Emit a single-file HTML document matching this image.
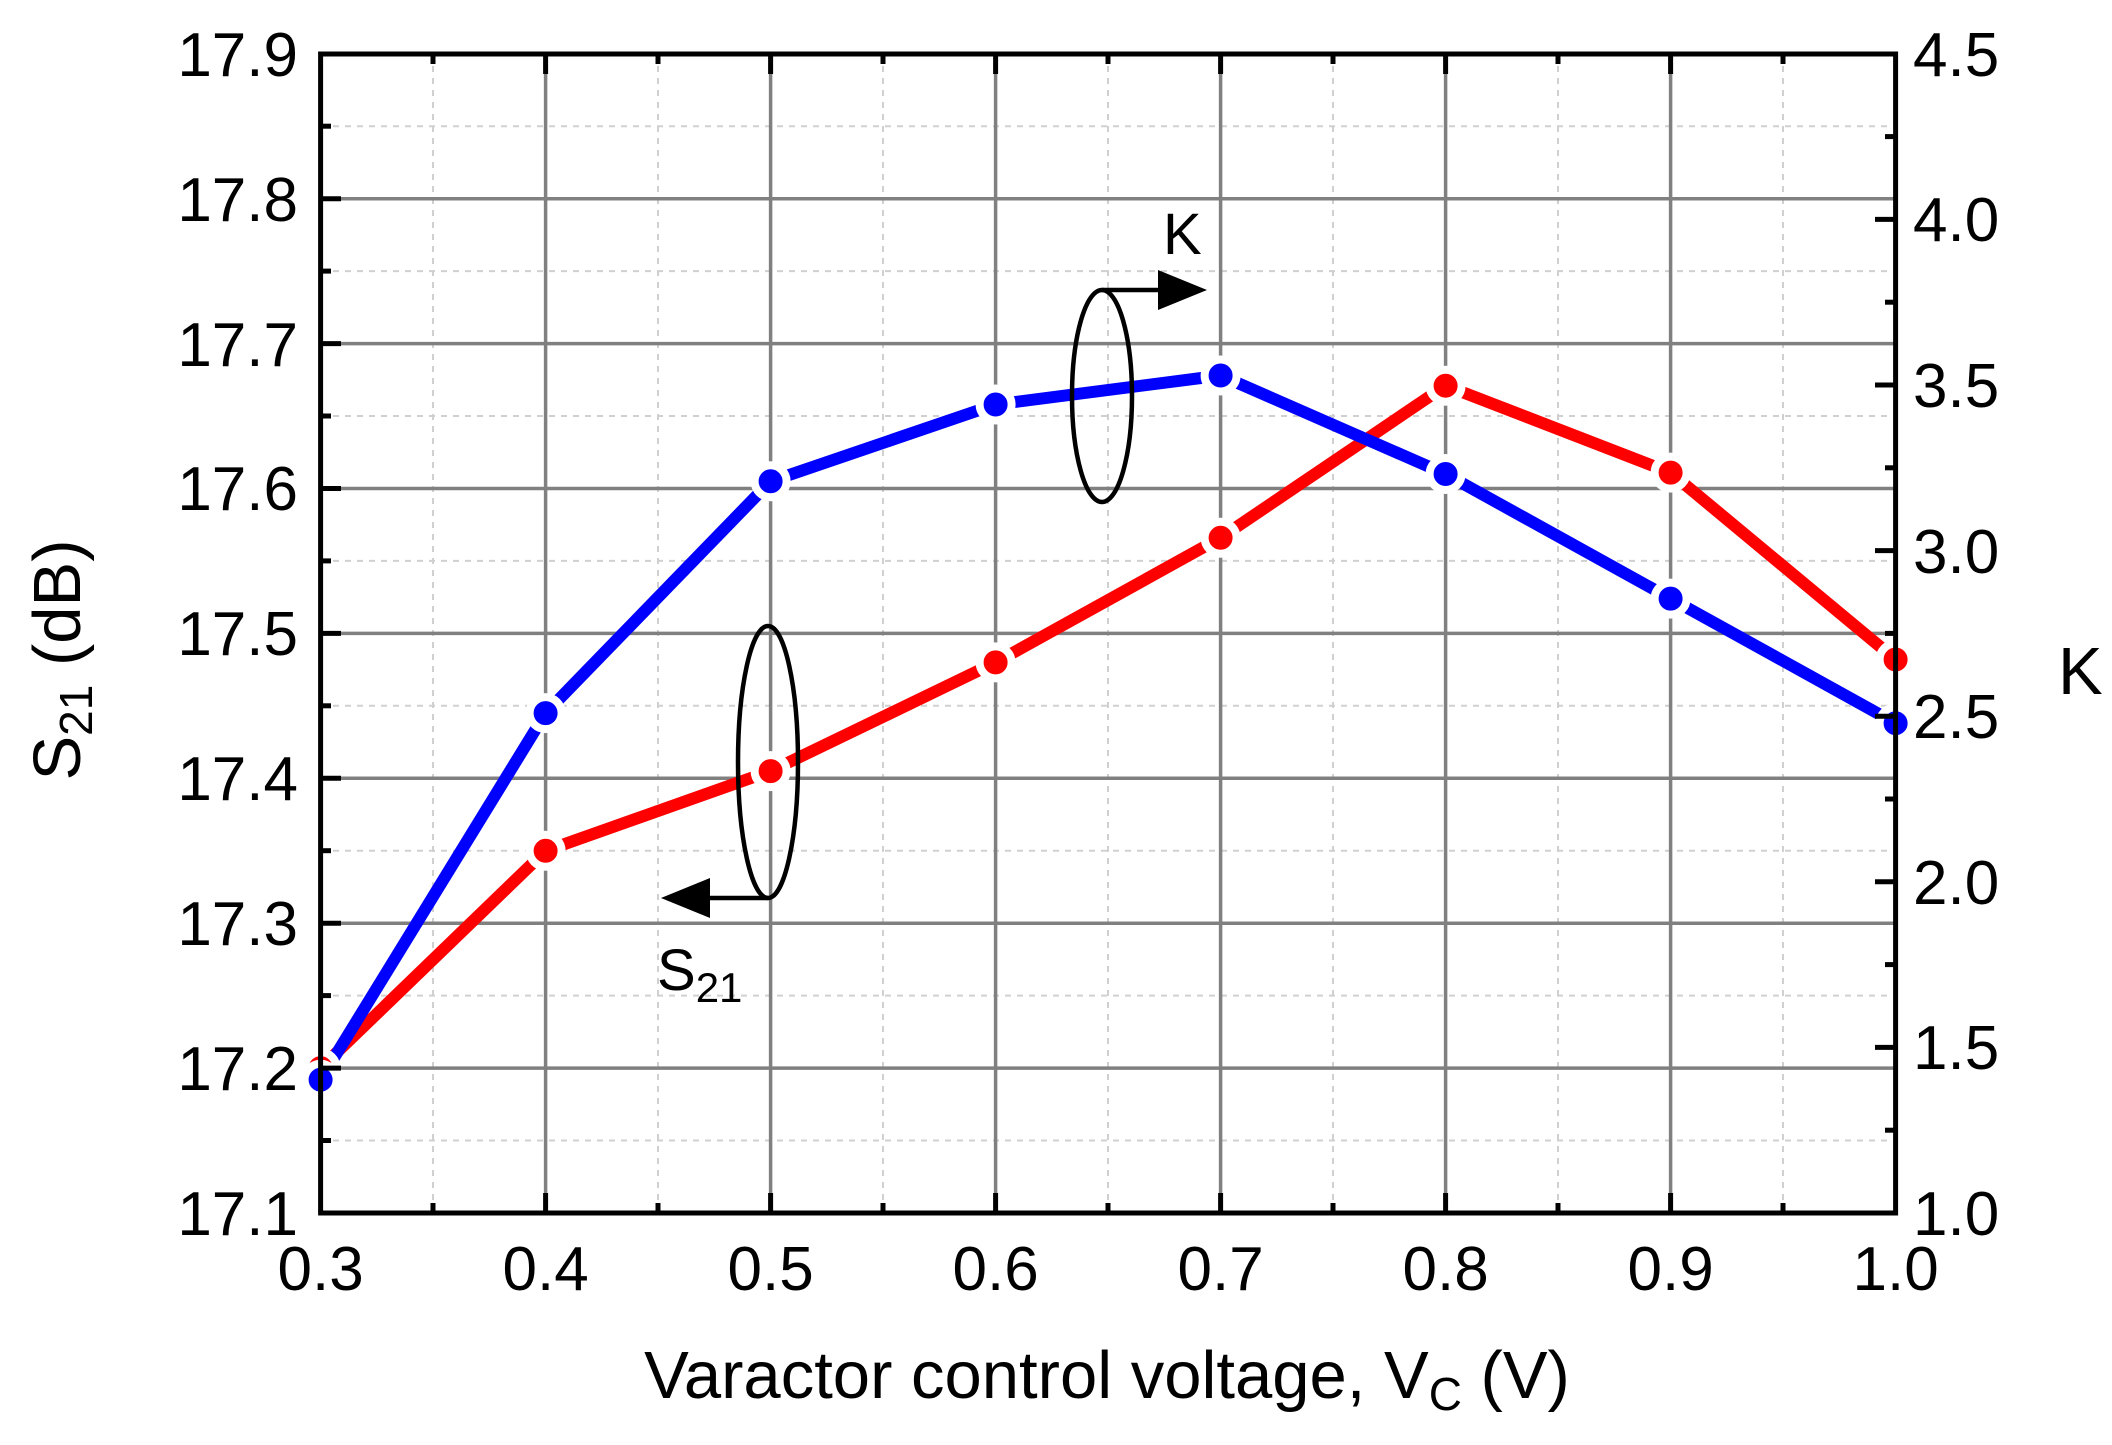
<!DOCTYPE html>
<html><head><meta charset="utf-8"><style>
html,body{margin:0;padding:0;background:#fff}
svg{display:block}
text{font-family:"Liberation Sans",Arial,sans-serif;fill:#000}
</style></head><body>
<svg width="2112" height="1445" viewBox="0 0 2112 1445" xmlns="http://www.w3.org/2000/svg">
<rect width="2112" height="1445" fill="#fff"/>
<!-- minor grid -->
<g stroke="#d0d0d0" stroke-width="2" stroke-dasharray="6,6">
<line x1="433" y1="54" x2="433" y2="1213"/><line x1="658" y1="54" x2="658" y2="1213"/><line x1="883" y1="54" x2="883" y2="1213"/><line x1="1108" y1="54" x2="1108" y2="1213"/><line x1="1333" y1="54" x2="1333" y2="1213"/><line x1="1558" y1="54" x2="1558" y2="1213"/><line x1="1783" y1="54" x2="1783" y2="1213"/>
<line x1="321" y1="1140.5" x2="1895" y2="1140.5"/><line x1="321" y1="995.6" x2="1895" y2="995.6"/><line x1="321" y1="850.7" x2="1895" y2="850.7"/><line x1="321" y1="705.8" x2="1895" y2="705.8"/><line x1="321" y1="560.9" x2="1895" y2="560.9"/><line x1="321" y1="416" x2="1895" y2="416"/><line x1="321" y1="271.1" x2="1895" y2="271.1"/><line x1="321" y1="126.2" x2="1895" y2="126.2"/>
</g>
<!-- major grid -->
<g stroke="#808080" stroke-width="3.5">
<line x1="545.6" y1="54" x2="545.6" y2="1213"/><line x1="770.6" y1="54" x2="770.6" y2="1213"/><line x1="995.6" y1="54" x2="995.6" y2="1213"/><line x1="1220.6" y1="54" x2="1220.6" y2="1213"/><line x1="1445.6" y1="54" x2="1445.6" y2="1213"/><line x1="1670.6" y1="54" x2="1670.6" y2="1213"/>
<line x1="321" y1="1068.1" x2="1895" y2="1068.1"/><line x1="321" y1="923.2" x2="1895" y2="923.2"/><line x1="321" y1="778.3" x2="1895" y2="778.3"/><line x1="321" y1="633.4" x2="1895" y2="633.4"/><line x1="321" y1="488.5" x2="1895" y2="488.5"/><line x1="321" y1="343.6" x2="1895" y2="343.6"/><line x1="321" y1="198.7" x2="1895" y2="198.7"/>
</g>
<!-- series -->
<g fill="none" stroke-width="12" stroke-linejoin="round">
<polyline stroke="#ff0000" points="320.6,1068.1 545.6,850.8 770.6,771.1 995.6,662.4 1220.6,537.8 1445.6,385.7 1670.6,472.6 1895.6,659.5"/>
<polyline stroke="#0000ff" points="320.6,1079.7 545.6,713.1 770.6,481.3 995.6,404.5 1220.6,375.5 1445.6,474 1670.6,598.6 1895.6,723.2"/>
</g>
<g fill="#ff0000" stroke="#fff" stroke-width="8">
<circle cx="320.6" cy="1068.1" r="16"/><circle cx="545.6" cy="850.8" r="16"/><circle cx="770.6" cy="771.1" r="16"/><circle cx="995.6" cy="662.4" r="16"/><circle cx="1220.6" cy="537.8" r="16"/><circle cx="1445.6" cy="385.7" r="16"/><circle cx="1670.6" cy="472.6" r="16"/><circle cx="1895.6" cy="659.5" r="16"/>
</g>
<g fill="#0000ff" stroke="#fff" stroke-width="8">
<circle cx="320.6" cy="1079.7" r="16"/><circle cx="545.6" cy="713.1" r="16"/><circle cx="770.6" cy="481.3" r="16"/><circle cx="995.6" cy="404.5" r="16"/><circle cx="1220.6" cy="375.5" r="16"/><circle cx="1445.6" cy="474" r="16"/><circle cx="1670.6" cy="598.6" r="16"/><circle cx="1895.6" cy="723.2" r="16"/>
</g>
<!-- annotations -->
<g fill="none" stroke="#000" stroke-width="4.5">
<ellipse cx="1102" cy="396" rx="30" ry="106"/>
<ellipse cx="768" cy="762" rx="30" ry="136"/>
<line x1="1102" y1="290" x2="1165" y2="290"/>
<line x1="768" y1="898" x2="705" y2="898"/>
</g>
<polygon points="1158,270 1207,290 1158,310" fill="#000"/>
<polygon points="710,878 661,898 710,918" fill="#000"/>
<text x="1163" y="254" font-size="58">K</text>
<text x="657" y="990" font-size="58">S<tspan font-size="42" dy="12">21</tspan></text>
<!-- axes frame -->
<rect x="320.6" y="54" width="1575" height="1159" fill="none" stroke="#000" stroke-width="5"/>
<!-- ticks -->
<g stroke="#000" stroke-width="5">
<line x1="545.6" y1="1213" x2="545.6" y2="1193"/><line x1="770.6" y1="1213" x2="770.6" y2="1193"/><line x1="995.6" y1="1213" x2="995.6" y2="1193"/><line x1="1220.6" y1="1213" x2="1220.6" y2="1193"/><line x1="1445.6" y1="1213" x2="1445.6" y2="1193"/><line x1="1670.6" y1="1213" x2="1670.6" y2="1193"/>
<line x1="433" y1="1213" x2="433" y2="1203"/><line x1="658" y1="1213" x2="658" y2="1203"/><line x1="883" y1="1213" x2="883" y2="1203"/><line x1="1108" y1="1213" x2="1108" y2="1203"/><line x1="1333" y1="1213" x2="1333" y2="1203"/><line x1="1558" y1="1213" x2="1558" y2="1203"/><line x1="1783" y1="1213" x2="1783" y2="1203"/>
<line x1="545.6" y1="54" x2="545.6" y2="74"/><line x1="770.6" y1="54" x2="770.6" y2="74"/><line x1="995.6" y1="54" x2="995.6" y2="74"/><line x1="1220.6" y1="54" x2="1220.6" y2="74"/><line x1="1445.6" y1="54" x2="1445.6" y2="74"/><line x1="1670.6" y1="54" x2="1670.6" y2="74"/>
<line x1="433" y1="54" x2="433" y2="64"/><line x1="658" y1="54" x2="658" y2="64"/><line x1="883" y1="54" x2="883" y2="64"/><line x1="1108" y1="54" x2="1108" y2="64"/><line x1="1333" y1="54" x2="1333" y2="64"/><line x1="1558" y1="54" x2="1558" y2="64"/><line x1="1783" y1="54" x2="1783" y2="64"/>
<line x1="321" y1="1068.1" x2="341" y2="1068.1"/><line x1="321" y1="923.2" x2="341" y2="923.2"/><line x1="321" y1="778.3" x2="341" y2="778.3"/><line x1="321" y1="633.4" x2="341" y2="633.4"/><line x1="321" y1="488.5" x2="341" y2="488.5"/><line x1="321" y1="343.6" x2="341" y2="343.6"/><line x1="321" y1="198.7" x2="341" y2="198.7"/>
<line x1="321" y1="1140.5" x2="331" y2="1140.5"/><line x1="321" y1="995.6" x2="331" y2="995.6"/><line x1="321" y1="850.7" x2="331" y2="850.7"/><line x1="321" y1="705.8" x2="331" y2="705.8"/><line x1="321" y1="560.9" x2="331" y2="560.9"/><line x1="321" y1="416" x2="331" y2="416"/><line x1="321" y1="271.1" x2="331" y2="271.1"/><line x1="321" y1="126.2" x2="331" y2="126.2"/>
<line x1="1895" y1="1047.4" x2="1875" y2="1047.4"/><line x1="1895" y1="881.8" x2="1875" y2="881.8"/><line x1="1895" y1="716.2" x2="1875" y2="716.2"/><line x1="1895" y1="550.6" x2="1875" y2="550.6"/><line x1="1895" y1="385" x2="1875" y2="385"/><line x1="1895" y1="219.4" x2="1875" y2="219.4"/>
<line x1="1895" y1="1130.2" x2="1885" y2="1130.2"/><line x1="1895" y1="964.6" x2="1885" y2="964.6"/><line x1="1895" y1="799" x2="1885" y2="799"/><line x1="1895" y1="633.4" x2="1885" y2="633.4"/><line x1="1895" y1="467.8" x2="1885" y2="467.8"/><line x1="1895" y1="302.2" x2="1885" y2="302.2"/><line x1="1895" y1="136.6" x2="1885" y2="136.6"/>
</g>
<g font-size="62" text-anchor="end">
<text x="298" y="1235">17.1</text><text x="298" y="1090">17.2</text><text x="298" y="945">17.3</text><text x="298" y="800">17.4</text><text x="298" y="655">17.5</text><text x="298" y="510">17.6</text><text x="298" y="366">17.7</text><text x="298" y="221">17.8</text><text x="298" y="76">17.9</text>
</g>
<g font-size="62" text-anchor="start">
<text x="1913" y="1235">1.0</text><text x="1913" y="1069">1.5</text><text x="1913" y="904">2.0</text><text x="1913" y="738">2.5</text><text x="1913" y="573">3.0</text><text x="1913" y="407">3.5</text><text x="1913" y="241">4.0</text><text x="1913" y="76">4.5</text>
</g>
<g font-size="62" text-anchor="middle">
<text x="320.6" y="1290">0.3</text><text x="545.6" y="1290">0.4</text><text x="770.6" y="1290">0.5</text><text x="995.6" y="1290">0.6</text><text x="1220.6" y="1290">0.7</text><text x="1445.6" y="1290">0.8</text><text x="1670.6" y="1290">0.9</text><text x="1895.6" y="1290">1.0</text>
</g>
<text x="1107" y="1398" font-size="67" text-anchor="middle">Varactor control voltage, V<tspan font-size="46" dy="12">C</tspan><tspan dy="-12"> (V)</tspan></text>
<text transform="translate(80,660) rotate(-90)" font-size="67" text-anchor="middle">S<tspan font-size="46" dy="12">21</tspan><tspan dy="-12"> (dB)</tspan></text>
<text x="2058" y="694" font-size="67">K</text>
</svg>
</body></html>
